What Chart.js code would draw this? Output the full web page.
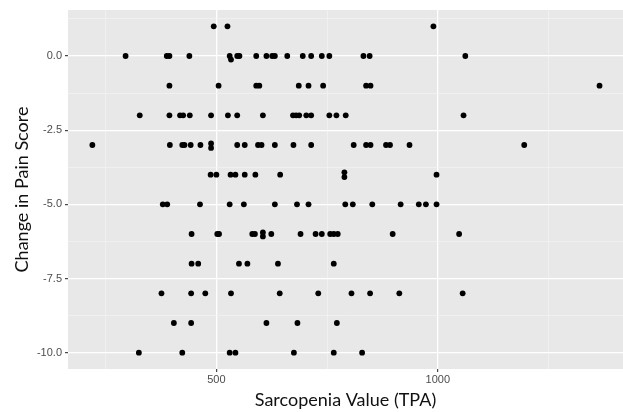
<!DOCTYPE html>
<html>
<head>
<meta charset="utf-8">
<script src="https://cdn.jsdelivr.net/npm/chart.js@4"></script>
<style>
  html, body { margin: 0; padding: 0; background: #fff; }
  #chart { display: block; }
</style>
</head>
<body>
<canvas id="chart" width="623" height="412"></canvas>
<script>
// TPA (x) and change in pain score (y), one pair per patient
const tpaValues = [
  494, 525, 990,
  295, 388, 394, 439, 530, 533, 547, 552, 590, 613, 626, 632, 660, 695, 714, 738, 755, 832, 846, 1062,
  394, 505, 590, 597, 686, 708, 741, 838, 848, 1365,
  327, 394, 418, 425, 440, 488, 526, 547, 605, 673, 680, 687, 703, 714, 755, 771, 792, 1058,
  220, 395, 423, 428, 442, 464, 488, 488, 547, 564, 594, 602, 632, 674, 714, 810, 838, 848, 883, 892, 936, 1195,
  487, 500, 532, 543, 564, 588, 644, 789, 789, 997,
  379, 389, 463, 530, 562, 632, 682, 708, 791, 808, 852, 916, 957, 973, 997,
  444, 502, 506, 581, 587, 605, 605, 624, 690, 724, 738, 757, 765, 774, 898, 1048,
  444, 459, 551, 570, 639, 765,
  376, 443, 475, 533, 643, 730, 805, 847, 913, 1056,
  404, 443, 613, 683, 772,
  325, 423, 530, 543, 675, 765, 829
];
const painChange = [
  1, 1, 1,
  0, 0, 0, 0, 0, -0.12, 0, 0, 0, 0, 0, 0, 0, 0, 0, 0, 0, 0, 0, 0,
  -1, -1, -1, -1, -1, -1, -1, -1, -1, -1,
  -2, -2, -2, -2, -2, -2, -2, -2, -2, -2, -2, -2, -2, -2, -2, -2, -2, -2,
  -3, -3, -3, -3, -3, -3, -2.95, -3.1, -3, -3, -3, -3, -3, -3, -3, -3, -3, -3, -3, -3, -3, -3,
  -4, -4, -4, -4, -4, -4, -4, -3.92, -4.08, -4,
  -5, -5, -5, -5, -5, -5, -5, -5, -5, -5, -5, -5, -5, -5, -5,
  -6, -6, -6, -6, -6, -5.95, -6.08, -6, -6, -6, -6, -6, -6, -6, -6, -6,
  -7, -7, -7, -7, -7, -7,
  -8, -8, -8, -8, -8, -8, -8, -8, -8, -8,
  -9, -9, -9, -9, -9,
  -10, -10, -10, -10, -10, -10, -10
];

// ggplot-like breaks
const xMajor = [500, 1000];
const xMinor = [250, 750, 1250];
const yMajor = [0, -2.5, -5, -7.5, -10];
const yMinor = [1.25, -1.25, -3.75, -6.25, -8.75];

const points = tpaValues.map((x, i) => ({ x: x, y: painChange[i] }));

// grey panel behind the plot
const panelBackground = {
  id: 'panelBackground',
  beforeDraw(chart) {
    const { ctx, chartArea: a } = chart;
    ctx.save();
    ctx.fillStyle = '#e8e8e8';
    ctx.fillRect(a.left, a.top, a.right - a.left, a.bottom - a.top);
    ctx.restore();
  }
};

function isMajor(list, ctx) {
  return ctx.tick && list.includes(ctx.tick.value);
}

function gridFor(major) {
  return {
    color: ctx => isMajor(major, ctx) ? '#ffffff' : '#f4f4f4',
    lineWidth: ctx => isMajor(major, ctx) ? 1.3 : 0.7,
    tickColor: ctx => isMajor(major, ctx) ? '#333333' : 'rgba(0,0,0,0)',
    tickLength: 3,
    tickWidth: 1.1,
    drawTicks: true
  };
}

const tickFont = { family: 'Liberation Sans', size: 11 };
const titleFont = { family: 'Lato', size: 18, lineHeight: 1.2 };

new Chart(document.getElementById('chart'), {
  type: 'scatter',
  data: {
    datasets: [{
      data: points,
      backgroundColor: '#000000',
      borderWidth: 0,
      pointRadius: 2.9,
      pointHoverRadius: 2.9
    }]
  },
  options: {
    responsive: false,
    animation: false,
    layout: { autoPadding: false, padding: { left: 0, top: 10, right: 0, bottom: 0 } },
    plugins: {
      legend: { display: false },
      tooltip: { enabled: false }
    },
    scales: {
      x: {
        type: 'linear',
        min: 165,
        max: 1418,
        afterBuildTicks: s => { s.ticks = xMinor.concat(xMajor).sort((a, b) => a - b).map(v => ({ value: v })); },
        afterFit: s => { s.height = 43; },
        grid: gridFor(xMajor),
        border: { display: false },
        ticks: {
          font: tickFont,
          color: '#4d4d4d',
          padding: 1,
          maxRotation: 0,
          autoSkip: false,
          callback: v => xMajor.includes(v) ? String(v) : ''
        },
        title: {
          display: true,
          text: 'Sarcopenia Value (TPA)',
          font: titleFont,
          color: '#111111',
          padding: { top: 0, bottom: 1 }
        }
      },
      y: {
        type: 'linear',
        min: -10.55,
        max: 1.55,
        afterBuildTicks: s => { s.ticks = yMinor.concat(yMajor).sort((a, b) => a - b).map(v => ({ value: v })); },
        afterFit: s => { s.width = 68; },
        grid: gridFor(yMajor),
        border: { display: false },
        ticks: {
          font: tickFont,
          color: '#4d4d4d',
          padding: 3,
          autoSkip: false,
          callback: v => yMajor.includes(v) ? v.toFixed(1) : ''
        },
        title: {
          display: true,
          text: 'Change in Pain Score',
          font: titleFont,
          color: '#111111',
          padding: { top: 11, bottom: 0 }
        }
      }
    }
  },
  plugins: [panelBackground]
});
</script>
</body>
</html>
